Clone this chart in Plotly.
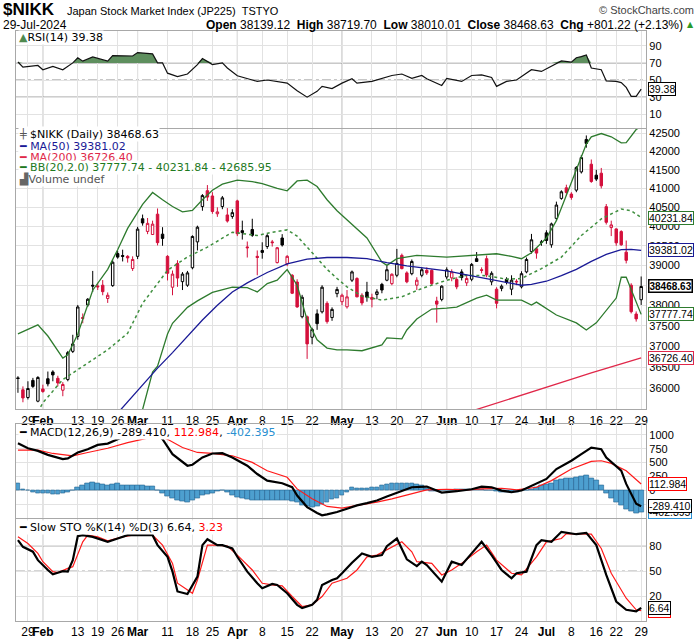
import math
import plotly.graph_objects as go

# ---------------- data ----------------
dates = [
    "2024-01-25", "2024-01-26", "2024-01-29", "2024-01-30", "2024-01-31",
    "2024-02-01", "2024-02-02", "2024-02-05", "2024-02-06", "2024-02-07", "2024-02-08", "2024-02-09",
    "2024-02-13", "2024-02-14", "2024-02-15", "2024-02-16", "2024-02-19", "2024-02-20", "2024-02-21",
    "2024-02-22", "2024-02-26", "2024-02-27", "2024-02-28", "2024-02-29",
    "2024-03-01", "2024-03-04", "2024-03-05", "2024-03-06", "2024-03-07", "2024-03-08", "2024-03-11",
    "2024-03-12", "2024-03-13", "2024-03-14", "2024-03-15", "2024-03-18", "2024-03-19", "2024-03-21",
    "2024-03-22", "2024-03-25", "2024-03-26", "2024-03-27", "2024-03-28", "2024-03-29",
    "2024-04-01", "2024-04-02", "2024-04-03", "2024-04-04", "2024-04-05", "2024-04-08", "2024-04-09",
    "2024-04-10", "2024-04-11", "2024-04-12", "2024-04-15", "2024-04-16", "2024-04-17", "2024-04-18",
    "2024-04-19", "2024-04-22", "2024-04-23", "2024-04-24", "2024-04-25", "2024-04-26", "2024-04-30",
    "2024-05-01", "2024-05-02", "2024-05-07", "2024-05-08", "2024-05-09", "2024-05-10", "2024-05-13",
    "2024-05-14", "2024-05-15", "2024-05-16", "2024-05-17", "2024-05-20", "2024-05-21", "2024-05-22",
    "2024-05-23", "2024-05-24", "2024-05-27", "2024-05-28", "2024-05-29", "2024-05-30", "2024-05-31",
    "2024-06-03", "2024-06-04", "2024-06-05", "2024-06-06", "2024-06-07", "2024-06-10", "2024-06-11",
    "2024-06-12", "2024-06-13", "2024-06-14", "2024-06-17", "2024-06-18", "2024-06-19", "2024-06-20",
    "2024-06-21", "2024-06-24", "2024-06-25", "2024-06-26", "2024-06-27", "2024-06-28",
    "2024-07-01", "2024-07-02", "2024-07-03", "2024-07-04", "2024-07-05", "2024-07-08", "2024-07-09",
    "2024-07-10", "2024-07-11", "2024-07-12", "2024-07-16", "2024-07-17", "2024-07-18", "2024-07-19",
    "2024-07-22", "2024-07-23", "2024-07-24", "2024-07-25", "2024-07-26", "2024-07-29",
]

open_ = [36250, 35970, 35790, 36190, 35705, 35990, 36230, 36390, 36240, 35960, 36210, 36880,
         37240, 37700, 38010, 38500, 38480, 38500, 38170, 38490, 39300, 39250, 39230, 38920,
         39230, 40200, 39870, 39790, 40320, 39800, 39230, 38450, 39050, 38590, 38500, 38940,
         39600, 40520, 40940, 40800, 40330, 40520, 40300, 40260, 40670, 39890, 39470, 39920,
         39230, 39380, 39480, 39600, 39070, 39700, 39040, 38750, 38580, 37720, 37720, 37220,
         37790, 37840, 38050, 37700, 38290, 38090, 37964, 38626, 38670, 38250, 38330, 38195,
         38270, 38520, 38626, 38540, 38750, 39254, 38810, 38790, 38501, 38750, 38875, 38875,
         38107, 38147, 38708, 38685, 38643, 38835, 38560, 38650, 39170, 38890, 39170, 38585,
         38400, 38420, 38650, 38400, 38600, 38460, 38835, 39355, 39424, 39600, 39833, 39525,
         40210, 40735, 41017, 40850, 40955, 41443, 42327, 41651, 41355, 41408, 40517, 39970,
         39935, 39866, 39337, 38500, 37786, 38139.12]
high = [36290, 36050, 36170, 36250, 36290, 36090, 36400, 36430, 36300, 36150, 36890, 37280,
        38010, 37800, 38180, 38860, 38560, 38630, 38320, 39130, 39370, 39400, 39260, 39230,
        39990, 40310, 40220, 40150, 40470, 39980, 39260, 38870, 39130, 38830, 38860, 39770,
        40020, 40850, 41090, 40900, 40500, 40800, 40480, 40450, 40700, 40150, 39610, 40200,
        39380, 39590, 39800, 39650, 39470, 39800, 39260, 38780, 38650, 38260, 37750, 37450,
        37900, 38500, 38100, 37950, 38460, 38290, 38380, 38870, 38700, 38300, 38585, 38290,
        38400, 38560, 39000, 38800, 39420, 39300, 38850, 39150, 38700, 38950, 38950, 38900,
        38212, 38500, 38950, 38900, 38700, 38900, 38750, 39060, 39340, 38950, 39250, 38850,
        38450, 38520, 38700, 38750, 38650, 38850, 39200, 39806, 39450, 39650, 39900, 40100,
        40650, 40950, 41100, 40900, 41600, 41900, 42437, 41779, 41500, 41550, 40587, 40150,
        39950, 39900, 39636, 38550, 37850, 38719.70]
low = [35900, 35680, 35745, 36015, 35680, 35900, 36050, 36170, 36050, 35820, 36170, 36840,
       37160, 37560, 37960, 38330, 38380, 38250, 38060, 38460, 39170, 39100, 39070, 38860,
       39160, 40020, 39800, 39780, 39510, 39500, 38620, 38250, 38460, 38380, 38460, 38900,
       39380, 40410, 40670, 40330, 40250, 40450, 40100, 40200, 39750, 39660, 39200, 39730,
       38750, 39170, 39420, 39480, 39050, 39480, 38980, 38280, 37940, 37680, 36700, 37050,
       37400, 37800, 37550, 37620, 38200, 38000, 37920, 38580, 38200, 38000, 38090, 37950,
       38150, 38300, 38600, 38500, 38700, 38900, 38550, 38750, 38380, 38700, 38760, 38500,
       37575, 38100, 38650, 38600, 38400, 38620, 38480, 38600, 39085, 38800, 38700, 38500,
       37925, 38350, 38520, 38253, 38500, 38420, 38800, 39300, 39170, 39500, 39550, 39450,
       40150, 40700, 40800, 40700, 40900, 41400, 42100, 41150, 41200, 41000, 40050, 39750,
       39500, 39500, 39050, 37800, 37600, 38010.01]
close = [36236, 35780, 36000, 36050, 36260, 35930, 36110, 36320, 36130, 36095, 36850, 37060,
         37960, 37680, 38150, 38480, 38460, 38340, 38250, 39080, 39210, 39230, 39190, 39150,
         39930, 40090, 40080, 40060, 39580, 39690, 38800, 38780, 38680, 38780, 38810, 39740,
         39980, 40810, 40770, 40390, 40380, 40750, 40140, 40360, 39810, 39840, 39450, 39770,
         39200, 39330, 39760, 39580, 39450, 39520, 39230, 38300, 37960, 38200, 37060, 37410,
         37550, 38450, 37600, 37900, 38395, 38250, 38210, 38835, 38210, 38060, 38200, 38150,
         38335, 38380, 38890, 38775, 39050, 38918, 38585, 39100, 38626, 38890, 38810, 38540,
         38030, 38476, 38890, 38835, 38460, 38695, 38670, 39025, 39100, 38875, 38760, 38800,
         38050, 38476, 38570, 38626, 38585, 38790, 39150, 39654, 39312, 39590, 39636, 40065,
         40560, 40911, 40893, 40762, 41560, 41830, 42218, 41185, 41250, 41070, 40107, 40040,
         39575, 39525, 39128, 37843, 37667, 38468.63]

# overlays on the price panel (trading-day index, value)
ma50_idx = [19, 21, 24, 28, 31, 34, 37, 40, 43, 46, 50, 54, 58, 62, 66, 70, 74, 78, 82, 86, 90,
            94, 98, 101, 103, 106, 109, 112, 115, 118, 121, 123, 125]
ma50_val = [35300, 35560, 35950, 36480, 36850, 37250, 37640, 38000, 38330, 38560, 38820, 39040,
            39160, 39200, 39200, 39170, 39070, 38990, 38930, 38860, 38760, 38660, 38560, 38500,
            38520, 38600, 38740, 38900, 39100, 39280, 39400, 39410, 39381.02]
ma200_idx = [90, 95, 100, 105, 110, 115, 120, 125]
ma200_val = [35440, 35620, 35800, 35990, 36180, 36370, 36550, 36726.40]
bbu_idx = [0, 2, 4, 6, 8, 9, 10, 12, 15, 18, 20, 22, 25, 27, 29, 31, 33, 35, 37, 39, 41, 44, 47,
           49, 52, 54, 56, 58, 60, 62, 64, 67, 70, 73, 74, 76, 80, 86, 92, 96, 99, 101, 103, 106,
           108, 110, 112, 114, 115, 117, 119, 121, 122, 124, 125]
bbu_val = [37300, 37420, 37520, 37250, 36900, 36720, 36800, 37300, 38376, 38900, 39400, 39950,
           40580, 40893, 40700, 40520, 40380, 40420, 40700, 40950, 41115, 41220, 41180, 41130,
           41000, 40937, 41200, 41220, 41050, 40700, 40411, 40065, 39700, 39085, 39000, 39170,
           39254, 39210, 39254, 39296, 39230, 39170, 39320, 39700, 40150, 40800, 41500, 42200,
           42400, 42490, 42400, 42235, 42240, 42600, 42685.95]
bbm_idx = [4, 5, 9, 13, 18, 22, 25, 28, 30, 32, 34, 38, 43, 48, 51, 54, 56, 58, 62, 64, 66, 69,
           73, 77, 81, 86, 90, 94, 98, 101, 105, 109, 113, 117, 121, 123, 125]
bbm_val = [35450, 35670, 36210, 36520, 36917, 37317, 38050, 38543, 38875, 39045, 39212, 39465,
           39850, 39764, 39850, 39910, 39750, 39465, 38900, 38670, 38460, 38228, 38130, 38212,
           38418, 38626, 38750, 38740, 38650, 38670, 38918, 39210, 39764, 40195, 40455, 40411,
           40231.84]
bbl_idx = [23, 25, 27, 28, 30, 31, 34, 36, 39, 43, 46, 48, 50, 52, 54, 56, 58, 60, 62, 64, 66,
           69, 73, 74, 77, 78, 80, 83, 86, 88, 92, 94, 96, 101, 103, 104, 108, 112, 114, 116, 120,
           121, 122, 125]
bbl_val = [35000, 35514, 36385, 36525, 37300, 37560, 37950, 38110, 38320, 38450, 38440, 38334,
           38543, 38626, 38893, 38500, 37641, 37157, 36958, 36917, 36917, 36895, 37037, 37205,
           37180, 37397, 37665, 37908, 37933, 37958, 38180, 38253, 38130, 38130, 38007, 38080,
           37762, 37569, 37397, 37569, 38180, 38700, 38700, 37777.74]

# RSI(14)
rsi_idx = [0, 1, 4, 5, 7, 9, 11, 12, 13, 15, 18, 19, 23, 24, 27, 28, 29, 30, 32, 34, 36, 37, 39,
           41, 42, 43, 44, 47, 48, 50, 52, 54, 56, 58, 60, 61, 63, 65, 67, 68, 71, 73, 75, 77, 79,
           81, 82, 85, 86, 89, 91, 93, 95, 96, 98, 100, 103, 105, 107, 109, 111, 112, 113, 114,
           115, 117, 118, 119, 120, 121, 122, 123, 124, 125]
rsi_val = [71, 65, 67, 62, 66, 62, 70, 76, 72, 77, 72, 78.5, 78, 82, 80.5, 70, 70, 58, 54, 57,
           68, 75, 68, 70, 64, 60, 55, 50, 48.4, 50, 48.4, 46.4, 37.5, 30, 36.8, 42.6, 40, 46.4,
           51.5, 46.4, 48.4, 51.5, 55.3, 57, 52, 55.3, 51.5, 43.7, 52, 48.4, 55.3, 56, 53, 42.6,
           48.4, 50, 62, 60, 65.7, 72.3, 70.8, 76, 77.3, 79.3, 64, 62, 49, 49, 48.4, 47, 41.4,
           31, 31, 39.38]

# MACD(12,26,9)
macd_idx = [0, 2, 4, 6, 9, 10, 12, 14, 16, 18, 20, 22, 24, 26, 28, 29, 31, 34, 35, 37, 39, 41,
            43, 46, 48, 50, 53, 55, 56, 58, 60, 61, 62, 64, 66, 68, 70, 72, 74, 77, 79, 82, 84,
            85, 88, 91, 93, 95, 97, 99, 101, 104, 106, 108, 111, 113, 115, 117, 118, 121, 122,
            124, 125]
macd_val = [850, 760, 712, 640, 563, 575, 683, 742, 820, 844, 922, 1010, 1060, 1090, 1000, 922,
            653, 443, 461, 593, 665, 671, 593, 443, 293, 174, 126, 54, -96, -305, -413, -455,
            -437, -395, -335, -275, -233, -186, -114, -6, 54, 66, -6, -42, -18, 18, 66, 54, -6,
            -36, -6, 114, 204, 383, 533, 653, 772, 742, 593, 353, 114, -245, -289.41]
signal_idx = [0, 4, 7, 11, 14, 18, 22, 25, 28, 30, 33, 36, 39, 43, 47, 50, 54, 56, 59, 62, 65,
              68, 72, 75, 79, 82, 86, 90, 93, 97, 100, 104, 107, 111, 115, 117, 119, 122, 125]
signal_val = [725, 725, 665, 623, 683, 760, 862, 922, 982, 922, 772, 683, 665, 623, 503, 353,
              234, 24, -156, -293, -323, -275, -216, -156, -66, 6, 18, 6, 24, 36, 6, 54, 174,
              383, 521, 533, 485, 353, 112.984]
hist_val = [126, 20, -10, -36, -50, -54, -60, -66, -78, -54, -30, -6, 54, 96, 130, 138, 126,
            110, 96, 114, 126, 96, 96, 96, 90, 84, 78, 70, 6, -60, -110, -140, -174, -205, -216,
            -190, -150, -84, -78, -54, -20, -10, -36, -96, -120, -138, -160, -174, -180, -186,
            -186, -186, -176, -174, -186, -200, -220, -270, -300, -305, -300, -260, -220, -170,
            -140, -96, -36, 54, 42, 42, 42, 50, 54, 84, 114, 120, 126, 126, 126, 120, 114, 84,
            36, -24, -24, -10, -6, 6, 10, 18, 18, 18, 18, 18, 6, 6, -24, -30, -30, -30, -30, -6,
            6, 24, 54, 84, 110, 126, 170, 204, 215, 222, 235, 246, 275, 210, 174, 84, -50, -140,
            -220, -275, -353, -390, -425, -402.395]

# Slow STO %K(14) %D(3)
stok_idx = [0, 1, 3, 4, 6, 7, 8, 9, 10, 11, 12, 13, 15, 18, 20, 22, 27, 28, 30, 31, 32, 34, 36,
            37, 38, 40, 41, 43, 44, 46, 48, 49, 51, 52, 54, 56, 57, 59, 60, 61, 63, 64, 65, 67,
            69, 71, 73, 74, 76, 78, 80, 81, 82, 85, 87, 89, 91, 93, 95, 97, 99, 100, 102, 104,
            105, 107, 109, 112, 114, 116, 118, 120, 122, 124, 125]
stok_val = [86.7, 78.8, 73, 63, 51.4, 46.3, 48.2, 50, 49.4, 63, 91.4, 92.5, 90.6, 84.7, 88.6,
            92.5, 92.5, 80.8, 67, 49.4, 26, 23, 43.5, 80.8, 87.8, 80.8, 80.8, 76.9, 67, 49.4,
            35.7, 29.8, 34.9, 33.7, 23.9, 10.2, 6.3, 10.2, 16.1, 33.7, 39.6, 41.6, 47.5, 60, 71,
            67, 69, 79.6, 88.6, 64, 56, 61.2, 57.3, 37.6, 61.2, 57.3, 71, 84.7, 69, 51.4, 41.6,
            47.5, 49.4, 80.8, 86.7, 84.7, 96.5, 93.7, 95.3, 80.8, 45.5, 14.1, 4.3, 2.4, 6.64]
stod_idx = [0, 2, 4, 5, 7, 8, 10, 11, 13, 14, 16, 18, 21, 23, 27, 29, 31, 32, 35, 36, 38, 40,
            42, 44, 47, 49, 51, 53, 55, 57, 59, 61, 63, 66, 68, 70, 72, 74, 77, 79, 80, 83, 85,
            87, 89, 92, 94, 96, 99, 101, 104, 106, 109, 110, 113, 115, 117, 119, 122, 124, 125]
stod_val = [90.6, 82.7, 71, 61.2, 49.4, 48.2, 53.3, 55.3, 84.7, 92.5, 90.6, 85.9, 90.6, 92.5,
            92.5, 80.8, 59.2, 35.7, 23.9, 39.6, 80.8, 80.8, 79.6, 69, 51.4, 35.7, 33.7, 32.5, 20,
            8.2, 10.2, 20, 35.7, 41.6, 51.4, 67, 69, 74.9, 84.7, 72.9, 61.2, 59.2, 45.5, 51.4,
            59.2, 72.9, 80.8, 63.1, 47.5, 45.5, 67, 84.7, 88.6, 94.5, 93.7, 93.7, 76.9, 47.5, 18,
            4.3, 3.23]

tick_dates = ["2024-01-29", "2024-02-01", "2024-02-13", "2024-02-19", "2024-02-26", "2024-03-01",
              "2024-03-11", "2024-03-18", "2024-03-25", "2024-04-01", "2024-04-08", "2024-04-15",
              "2024-04-22", "2024-05-01", "2024-05-13", "2024-05-20", "2024-05-27", "2024-06-03",
              "2024-06-10", "2024-06-17", "2024-06-24", "2024-07-01", "2024-07-08", "2024-07-16",
              "2024-07-22", "2024-07-29"]
tick_text = ["29", "<b>Feb</b>", "13", "19", "26", "<b>Mar</b>", "11", "18", "25", "<b>Apr</b>",
             "8", "15", "22", "<b>May</b>", "13", "20", "27", "<b>Jun</b>", "10", "17", "24",
             "<b>Jul</b>", "8", "16", "22", "29"]
month_starts = ["2024-02-01", "2024-03-01", "2024-04-01", "2024-05-01", "2024-06-03", "2024-07-01"]

price_ticks = [36000, 36500, 37000, 37500, 38000, 38500, 39000, 39500, 40000, 40500, 41000,
               41500, 42000, 42500]

# ---------------- figure ----------------
W, H = 700, 639
def py(p):
    return 1 - p / H
def px(p):
    return p / W

ARIAL = "Liberation Sans, Arial, sans-serif"
TICKFONT = dict(family=ARIAL, size=11, color="#000")
LEGFONT = "DejaVu Sans, Verdana, sans-serif"
GRID = "#e2e2e2"
FRAME = "#a8a8a8"
RED = "#d4103c"
GREEN = "#2e7b2e"
NAVY = "#1a1a96"
CRIMSON = "#e0284a"

def d(idx):
    return [dates[i] for i in idx]

fig = go.Figure()

# RSI panel (x / y)
fig.add_trace(go.Scatter(x=d(rsi_idx), y=[70] * len(rsi_idx), mode="lines",
                         line=dict(width=0), xaxis="x", yaxis="y", hoverinfo="skip"))
fig.add_trace(go.Scatter(x=d(rsi_idx), y=[max(v, 70) for v in rsi_val], mode="lines",
                         line=dict(width=0), fill="tonexty", fillcolor="#5e8f5e",
                         xaxis="x", yaxis="y", hoverinfo="skip"))
fig.add_trace(go.Scatter(x=d(rsi_idx), y=rsi_val, mode="lines",
                         line=dict(color="#111", width=1.2), xaxis="x", yaxis="y"))

# price panel (x2 / y2)
fig.add_trace(go.Scatter(x=d(bbu_idx), y=bbu_val, mode="lines", line=dict(color=GREEN, width=1.3),
                         xaxis="x2", yaxis="y2"))
fig.add_trace(go.Scatter(x=d(bbl_idx), y=bbl_val, mode="lines", line=dict(color=GREEN, width=1.3),
                         xaxis="x2", yaxis="y2"))
fig.add_trace(go.Scatter(x=d(bbm_idx), y=bbm_val, mode="lines",
                         line=dict(color="#3f8f3f", width=1.5, dash="dot"), xaxis="x2", yaxis="y2"))
fig.add_trace(go.Scatter(x=d(ma50_idx), y=ma50_val, mode="lines", line=dict(color=NAVY, width=1.3),
                         xaxis="x2", yaxis="y2"))
fig.add_trace(go.Scatter(x=d(ma200_idx), y=ma200_val, mode="lines",
                         line=dict(color=CRIMSON, width=1.3), xaxis="x2", yaxis="y2"))

up = [i for i in range(len(close)) if i == 0 or close[i] >= close[i - 1]]
dn = [i for i in range(len(close)) if i > 0 and close[i] < close[i - 1]]
for sel, col in ((up, "#000000"), (dn, RED)):
    fig.add_trace(go.Candlestick(
        x=d(sel), open=[open_[i] for i in sel], high=[high[i] for i in sel],
        low=[low[i] for i in sel], close=[close[i] for i in sel],
        increasing=dict(line=dict(color=col, width=1), fillcolor="#ffffff"),
        decreasing=dict(line=dict(color=col, width=1), fillcolor=col),
        whiskerwidth=0, xaxis="x2", yaxis="y2", hoverinfo="skip"))

# MACD panel (x3 / y3)
fig.add_trace(go.Bar(x=dates, y=hist_val,
                     marker=dict(color="#4d9fcf", line=dict(color="#22628f", width=0.6)),
                     width=0.95, xaxis="x3", yaxis="y3"))
fig.add_trace(go.Scatter(x=d(signal_idx), y=signal_val, mode="lines",
                         line=dict(color="#ff1a1a", width=1.2), xaxis="x3", yaxis="y3"))
fig.add_trace(go.Scatter(x=d(macd_idx), y=macd_val, mode="lines",
                         line=dict(color="#000", width=2.2), xaxis="x3", yaxis="y3"))

# STO panel (x4 / y4)
fig.add_trace(go.Scatter(x=d(stod_idx), y=stod_val, mode="lines",
                         line=dict(color="#ff1a1a", width=1.2), xaxis="x4", yaxis="y4"))
fig.add_trace(go.Scatter(x=d(stok_idx), y=stok_val, mode="lines",
                         line=dict(color="#000", width=2.2), xaxis="x4", yaxis="y4"))

XDOM = [px(16), px(648)]
def xax(show, anchor):
    return dict(type="category", categoryorder="array", categoryarray=dates,
                range=[-0.4, 126], domain=XDOM, anchor=anchor,
                tickvals=tick_dates, ticktext=tick_text, showticklabels=show, tickangle=0,
                tickfont=dict(family=ARIAL, size=12, color="#000"),
                ticks="", showgrid=True, gridcolor=GRID, gridwidth=1,
                showline=True, mirror=True, linecolor=FRAME, linewidth=1,
                zeroline=False, rangeslider=dict(visible=False), fixedrange=True)

def yax(dom, rng, tvals, ttext=None, log=False):
    ax = dict(domain=dom, range=rng, side="right", tickvals=tvals, tickfont=TICKFONT,
              showgrid=True, gridcolor=GRID, gridwidth=1, showline=True, mirror=True,
              linecolor=FRAME, linewidth=1, zeroline=False, ticks="", fixedrange=True)
    if ttext is not None:
        ax["ticktext"] = ttext
    if log:
        ax["type"] = "log"
    return ax

fig.update_layout(
    width=W, height=H, margin=dict(l=0, r=0, t=0, b=0),
    paper_bgcolor="#fff", plot_bgcolor="#fff", showlegend=False, bargap=0,
    xaxis=xax(False, "y"),
    xaxis2=xax(True, "y2"),
    xaxis3=xax(False, "y3"),
    xaxis4=xax(True, "y4"),
    yaxis=yax([py(127), py(29)], [-6.2, 107.4], [10, 30, 50, 70, 90]),
    yaxis2=yax([py(410), py(127.7)], [math.log10(35514), math.log10(42618)],
               price_ticks, [str(v) for v in price_ticks], log=True),
    yaxis3=yax([py(519), py(425)], [-498, 1192], [-500, -250, 0, 250, 500, 750, 1000]),
    yaxis4=yax([py(622.5), py(520)], [-8.5, 112], [20, 50, 80]),
)

shapes = []
for ms in month_starts:
    k = dates.index(ms)
    for xr, yr in (("x", "y"), ("x2", "y2"), ("x3", "y3"), ("x4", "y4")):
        shapes.append(dict(type="line", xref=xr, yref=yr + " domain", x0=k, x1=k, y0=0, y1=1,
                           line=dict(color="#b4b4b4", width=1), layer="below"))
for yv, dash in ((70, "solid"), (30, "solid"), (50, "dashdot")):
    shapes.append(dict(type="line", xref="x domain", yref="y", x0=0, x1=1, y0=yv, y1=yv,
                       line=dict(color="#707070" if dash == "solid" else "#8a8a8a", width=1, dash=dash),
                       layer="below"))
for yv, dash in ((80, "solid"), (20, "solid"), (50, "dashdot")):
    shapes.append(dict(type="line", xref="x4 domain", yref="y4", x0=0, x1=1, y0=yv, y1=yv,
                       line=dict(color="#707070" if dash == "solid" else "#8a8a8a", width=1, dash=dash),
                       layer="below"))
fig.update_layout(shapes=shapes)

ann = []
def text(x, y, t, size=11, family=LEGFONT, color="#000", xanchor="left", bg=None):
    a = dict(xref="paper", yref="paper", x=px(x), y=py(y), text=t, showarrow=False,
             xanchor=xanchor, yanchor="middle", align="left",
             font=dict(family=family, size=size, color=color), borderpad=0)
    if bg:
        a["bgcolor"] = bg
    ann.append(a)

# header
text(2, 8, "<b>$NIKK</b>", size=17, family=ARIAL)
text(66, 9, "Japan Stock Market Index (JP225)  TSTYO", size=11, family=ARIAL)
text(697, 8, "© StockCharts.com", size=11, family=ARIAL, color="#444", xanchor="right")
text(2, 23, "29-Jul-2024", size=12, family=ARIAL)
text(686, 23, "<b>Open</b> 38139.12  <b>High</b> 38719.70  <b>Low</b> 38010.01  "
              "<b>Close</b> 38468.63  <b>Chg</b> +801.22 (+2.13%)", size=12, family=ARIAL,
     xanchor="right")
text(688, 23, "▲", size=8, family=LEGFONT, color="#2a9a2a")

# panel legends
text(18, 36, "<span style='color:#4f8a4f'>▲</span>RSI(14) 39.38", bg="#fff")
text(18, 133, "<span style='color:#555'>╪</span> $NIKK (Daily) 38468.63", bg="#fff")
text(18, 145, "<span style='color:%s'><b>━</b></span> <span style='color:%s'>MA(50) 39381.02</span>" % (NAVY, NAVY), bg="#fff")
text(18, 156, "<span style='color:%s'><b>━</b></span> <span style='color:%s'>MA(200) 36726.40</span>" % (CRIMSON, CRIMSON), bg="#fff")
text(18, 167, "<span style='color:#1f7a1f'><b>━</b> BB(20,2.0) 37777.74 - 40231.84 - 42685.95</span>", bg="#fff")
text(18, 178, "<span style='color:#666'>▟</span><span style='color:#555'>Volume undef</span>", bg="#fff")
text(18, 433, "<b>━</b> MACD(12,26,9) -289.410, <span style='color:#ff0000'>112.984</span>, "
              "<span style='color:#2a8fd0'>-402.395</span>", bg="#fff")
text(18, 529, "<b>━</b> Slow STO %K(14) %D(3) 6.64, <span style='color:#ff0000'>3.23</span>", bg="#fff")

# value tags on the right axis
def tag(yref, yval, t, col, bold=False):
    ann.append(dict(xref="paper", yref=yref, x=px(650), y=yval, text=("<b>%s</b>" % t) if bold else t,
                    showarrow=False, xanchor="left", yanchor="middle",
                    font=dict(family=ARIAL, size=10.5 if not bold else 10, color="#000"),
                    bgcolor="#fff", bordercolor=col, borderwidth=1.5 if bold else 1, borderpad=0))

tag("y", 39.38, "39.38", "#000")
tag("y2", math.log10(40231.84), "40231.84", GREEN)
tag("y2", math.log10(39381.02), "39381.02", NAVY)
tag("y2", math.log10(36726.40), "36726.40", CRIMSON)
tag("y2", math.log10(37777.74), "37777.74", GREEN)
tag("y2", math.log10(38468.63), "38468.63", "#000", bold=True)
tag("y3", 112.984, "112.984", "#ff0000")
tag("y3", -402.395, "-402.395", "#2a8fd0")
tag("y3", -289.41, "-289.410", "#000")
tag("y4", 3.23, "3.23", "#ff0000")
tag("y4", 6.64, "6.64", "#000")

fig.update_layout(annotations=ann)
fig.write_html("out.html", config={"displayModeBar": False},
               post_script="document.body.style.margin='0px';")
